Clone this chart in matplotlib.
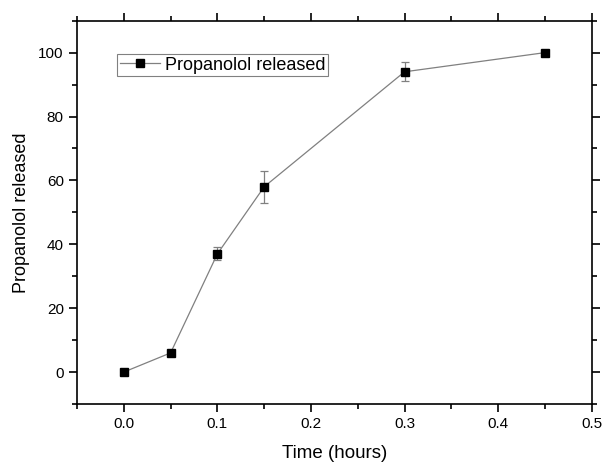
import matplotlib
matplotlib.use("Agg")
import matplotlib.pyplot as plt
from matplotlib.ticker import MultipleLocator

plt.rcParams["font.family"] = ["Liberation Sans", "DejaVu Sans"]

time_h = [0.0, 0.05, 0.1, 0.15, 0.3, 0.45]
released = [0, 6, 37, 58, 94, 100]
err = [0, 0, 2, 5, 3, 0]

fig = plt.figure(figsize=(6.05, 4.63), dpi=100)
ax = fig.add_axes([0.1273, 0.1274, 0.8507, 0.8279])

# error bars (no legend entry), then the line with markers
ax.errorbar(time_h, released, yerr=err, fmt="none", ecolor="#808080",
            elinewidth=0.9, capsize=3, capthick=0.9, zorder=2)
ax.plot(time_h, released, color="#808080", lw=0.9, marker="s", ms=6,
        mfc="black", mec="black", label="Propanolol released", zorder=3)

ax.set_xlim(-0.05, 0.5)
ax.set_ylim(-10, 110)
ax.set_xticks([0.0, 0.1, 0.2, 0.3, 0.4, 0.5])
ax.set_yticks([0, 20, 40, 60, 80, 100])
ax.xaxis.set_minor_locator(MultipleLocator(0.05))
ax.yaxis.set_minor_locator(MultipleLocator(10))

ax.tick_params(which="both", direction="out", top=True, right=True,
               labelsize=11, width=1.2)
ax.tick_params(which="major", length=6)
ax.tick_params(which="minor", length=3.5)
for s in ax.spines.values():
    s.set_linewidth(1.2)

ax.set_xlabel("Time (hours)", fontsize=13.5, labelpad=10)
ax.set_ylabel("Propanolol released", fontsize=13, labelpad=6)

leg = ax.legend(loc="upper left", bbox_to_anchor=(0.078, 0.913), fontsize=13,
                fancybox=False, framealpha=1, edgecolor="#808080",
                handlelength=2.2, borderpad=0.15, handletextpad=0.3,
                borderaxespad=0)
leg.get_frame().set_linewidth(0.8)

fig.savefig("out.png", dpi=100)
